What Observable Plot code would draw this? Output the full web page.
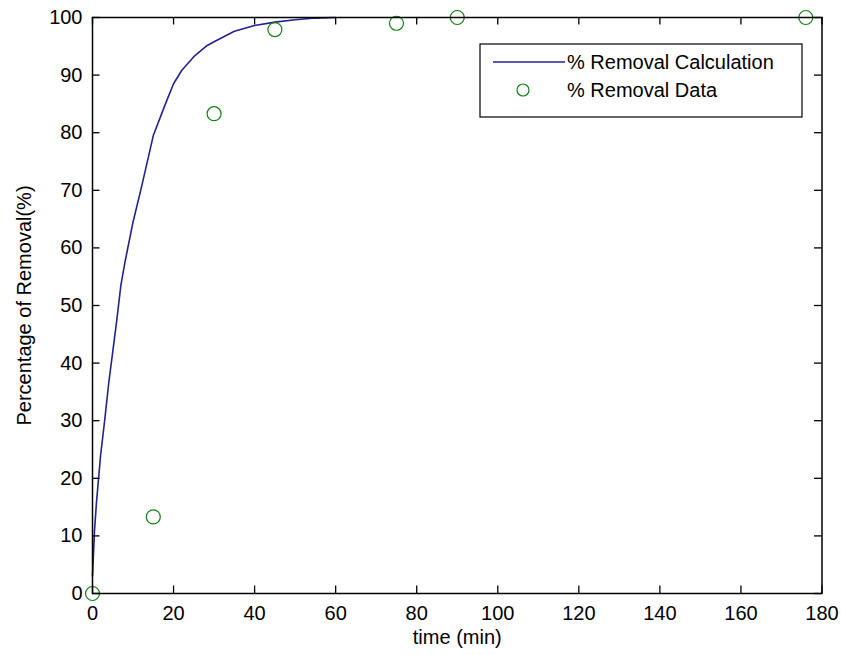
<!DOCTYPE html>
<html>
<head>
<meta charset="utf-8">
<script src="https://cdn.jsdelivr.net/npm/d3@7"></script>
<script src="https://cdn.jsdelivr.net/npm/@observablehq/plot@0.6"></script>
<style>
  html, body { margin: 0; padding: 0; background: #fff; }
  #chart { width: 841px; height: 655px; }
</style>
</head>
<body>
<div id="chart"></div>
<script>
// ---- data ----
const calcTime    = [0, 0.5, 1, 2, 3, 4, 5, 6, 7, 8, 10, 12, 15, 18, 20, 22, 25, 28, 30, 35, 40, 45, 50, 55, 60];
const calcRemoval = [3, 11, 16, 24, 30, 36.5, 42, 47.5, 53.5, 57.5, 64.5, 70.3, 79.5, 85, 88.5, 90.8, 93.2, 95, 95.8, 97.6, 98.6, 99.2, 99.6, 99.9, 100];
const dataTime    = [0, 15, 30, 45, 75, 90, 176];
const dataRemoval = [0, 13.3, 83.3, 97.9, 99, 100, 100];
const xTicks = [0, 20, 40, 60, 80, 100, 120, 140, 160, 180];
const yTicks = [0, 10, 20, 30, 40, 50, 60, 70, 80, 90, 100];
const seriesNames = ["% Removal Calculation", "% Removal Data"];
const xLabel = "time (min)";
const yLabel = "Percentage of Removal(%)";

// ---- layout ----
const W = 841, H = 655;
const mL = 92, mR = 19.5, mT = 17, mB = 62;
const plotW = W - mL - mR, plotH = H - mT - mB;
const tickLen = 7.5;
const lineColor = "#23238e";
const dotColor = "#118011";
const font = "'Liberation Sans', Arial, Helvetica, sans-serif";

const calc = calcTime.map((t, i) => ({t, v: calcRemoval[i]}));
const pts = dataTime.map((t, i) => ({t, v: dataRemoval[i]}));

const chart = Plot.plot({
  width: W, height: H,
  marginLeft: mL, marginRight: mR, marginTop: mT, marginBottom: mB,
  style: {fontFamily: font, fontSize: "20px", background: "#fff", color: "#000"},
  x: {domain: [0, 180]},
  y: {domain: [0, 100]},
  marks: [
    Plot.line(calc, {x: "t", y: "v", stroke: lineColor, strokeWidth: 1.6}),
    Plot.dot(pts, {x: "t", y: "v", r: 7, stroke: dotColor, strokeWidth: 1.2, fill: "none"}),
    Plot.frame({stroke: "#000", strokeWidth: 1.5}),
    // inward ticks on all four sides
    Plot.ruleX(xTicks, {x: d => d, insetTop: plotH - tickLen, stroke: "#000", strokeWidth: 1.3}),
    Plot.ruleX(xTicks, {x: d => d, insetBottom: plotH - tickLen, stroke: "#000", strokeWidth: 1.3}),
    Plot.ruleY(yTicks, {y: d => d, insetRight: plotW - tickLen, stroke: "#000", strokeWidth: 1.3}),
    Plot.ruleY(yTicks, {y: d => d, insetLeft: plotW - tickLen, stroke: "#000", strokeWidth: 1.3}),
    Plot.axisX({ticks: xTicks, tickSize: 0, tickPadding: 12, fontSize: 20, tickFormat: d => String(d),
      label: xLabel, labelAnchor: "center", labelArrow: "none", labelOffset: 50}),
    Plot.axisY({ticks: yTicks, tickSize: 0, tickPadding: 10, fontSize: 20, tickFormat: d => String(d),
      label: yLabel, labelAnchor: "center", labelArrow: "none", labelOffset: 76})
  ]
});
document.getElementById("chart").appendChild(chart);

// ---- legend (inside the plot area, top-right) ----
const svg = d3.select(chart);
const bw = 322, bh = 73;
const bx = W - mR - 19.5 - bw, by = mT + 27;
const g = svg.append("g").attr("font-family", font).attr("font-size", 20).attr("text-anchor", "start");
g.append("rect").attr("x", bx).attr("y", by).attr("width", bw).attr("height", bh)
  .attr("fill", "#fff").attr("stroke", "#000").attr("stroke-width", 1.2);
const rowY = [by + 18, by + 46];
g.append("line").attr("x1", bx + 13).attr("x2", bx + 85).attr("y1", rowY[0]).attr("y2", rowY[0])
  .attr("stroke", lineColor).attr("stroke-width", 1.6);
g.append("circle").attr("cx", bx + 43).attr("cy", rowY[1]).attr("r", 6)
  .attr("fill", "none").attr("stroke", dotColor).attr("stroke-width", 1.2);
seriesNames.forEach((name, i) => {
  g.append("text").attr("x", bx + 87).attr("y", rowY[i]).attr("dy", "0.35em")
    .attr("text-anchor", "start").text(name);
});
</script>
</body>
</html>
